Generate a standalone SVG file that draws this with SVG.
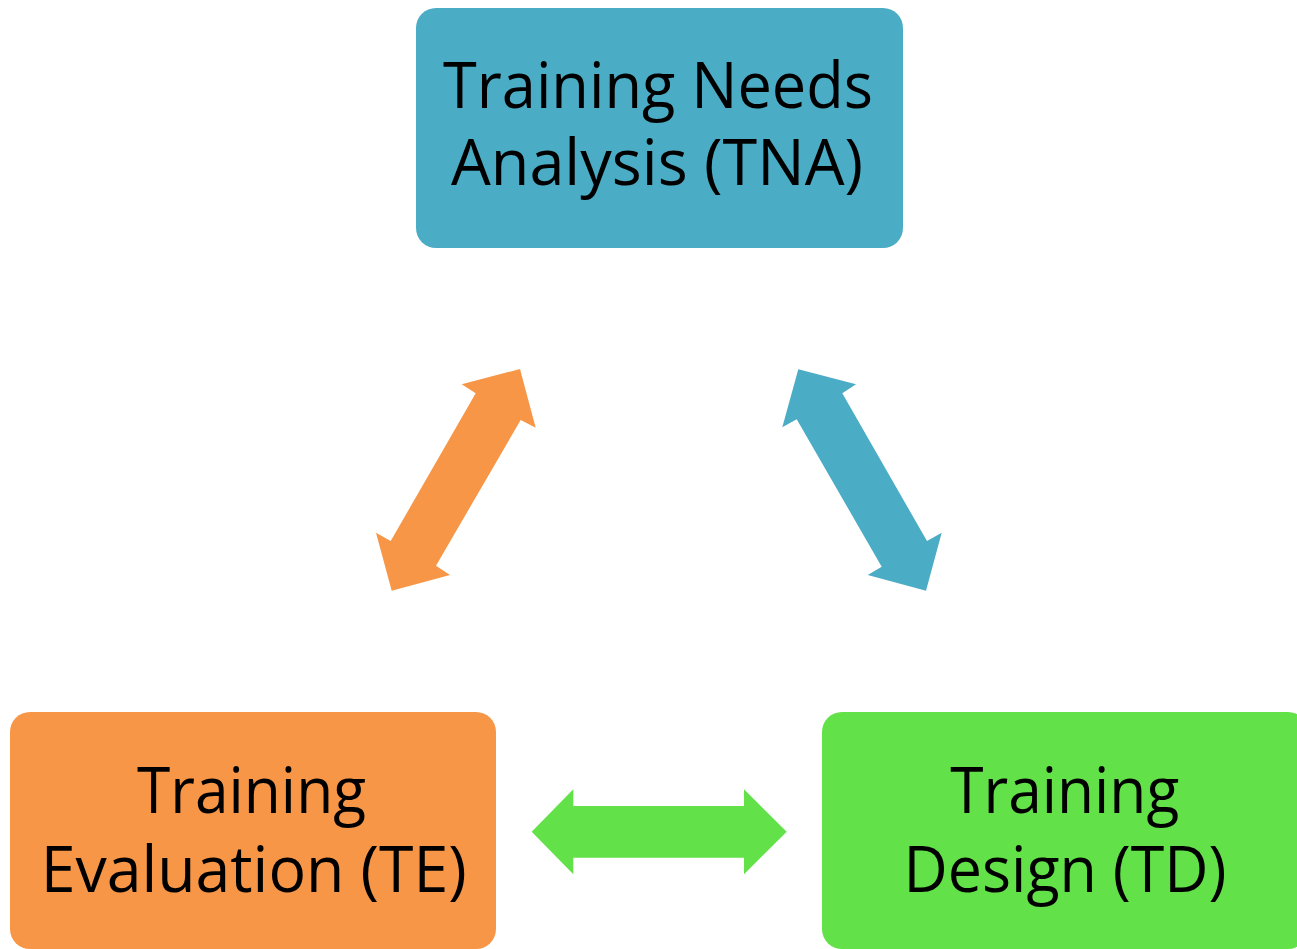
<svg xmlns="http://www.w3.org/2000/svg" width="1297" height="949" viewBox="0 0 1297 949">
<style>
.lbl{font-family:"Open Sans","Noto Sans","Liberation Sans",sans-serif;font-size:64px;fill:#000;text-anchor:middle}
</style>
<rect width="1297" height="949" fill="#fff"/>
<g id="connectors">
<polygon id="arrow-te-tna" fill="#F79646" points="520,369 535.7,427.7 520.7,420 436,565.7 450,575 391.7,590.7 376,532.7 390.7,541 475.7,393.3 461.7,384.3"/>
<polygon id="arrow-tna-td" fill="#4BACC6" points="798.3,369.3 856,384.3 842.3,393.3 927,541 941.7,532.7 926,590.7 867.7,575 881.7,566.7 796.7,419.3 782.3,427.3"/>
<polygon id="arrow-te-td" fill="#62E148" points="531.7,831.7 573.3,789.3 573.3,806 744,806 744,789.3 786.7,831.7 744,874.3 744,857.7 573.3,857.7 573.3,874.3"/>
</g>
<g id="node-tna">
<rect x="416" y="8" width="487" height="240" rx="20" fill="#4BACC6"/>
<text class="lbl" x="658" y="108" textLength="430" lengthAdjust="spacingAndGlyphs">Training Needs</text>
<text class="lbl" x="657" y="185" textLength="412" lengthAdjust="spacingAndGlyphs">Analysis (TNA)</text>
</g>
<g id="node-te">
<rect x="10" y="712" width="486" height="237" rx="20" fill="#F79646"/>
<text class="lbl" x="251.5" y="812.7" textLength="229" lengthAdjust="spacingAndGlyphs">Training</text>
<text class="lbl" x="253.7" y="891.7" textLength="426" lengthAdjust="spacingAndGlyphs">Evaluation (TE)</text>
</g>
<g id="node-td">
<rect x="822" y="712" width="486" height="237" rx="20" fill="#62E148"/>
<text class="lbl" x="1064.7" y="812.7" textLength="229" lengthAdjust="spacingAndGlyphs">Training</text>
<text class="lbl" x="1065" y="891.7" textLength="323" lengthAdjust="spacingAndGlyphs">Design (TD)</text>
</g>
</svg>
